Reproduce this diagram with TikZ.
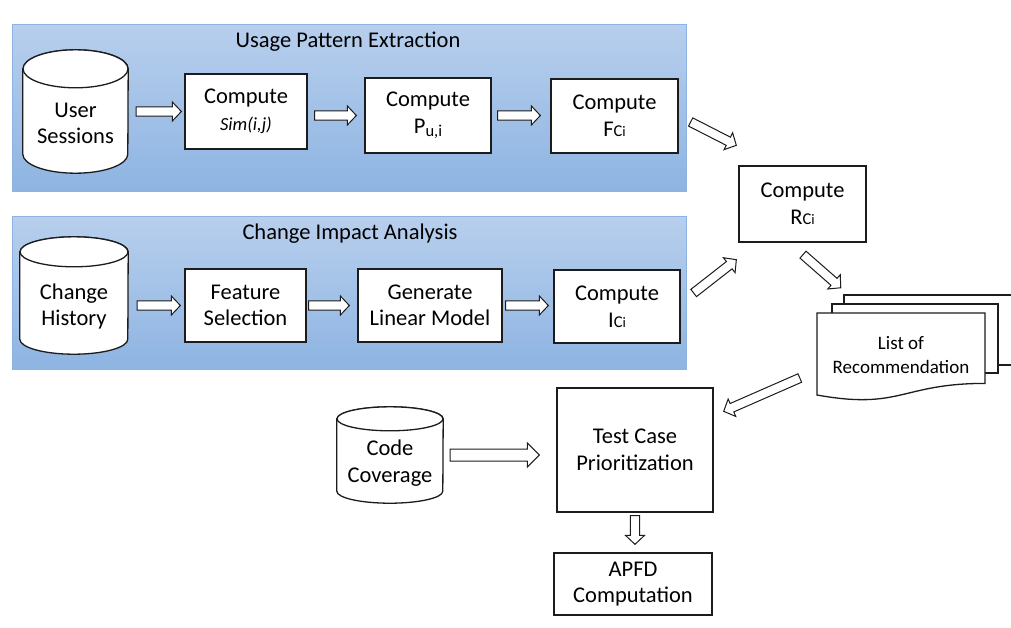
\documentclass[tikz,border=0pt]{standalone}
\usepackage{fontspec}
\setmainfont{Carlito}
\usetikzlibrary{calc}

\definecolor{panelTop}{RGB}{184,207,237}
\definecolor{panelBot}{RGB}{142,180,226}
\definecolor{panelEdge}{RGB}{141,179,226}
\definecolor{ink}{RGB}{28,28,28}

% sizes of the outlined block arrows
\newcommand\arrShaft{4.6pt}
\newcommand\arrHead{9.5pt}
\newcommand\arrLen{9pt}

\tikzset{
  x=1pt, y=-1pt,
  every node/.style={font=\fontsize{22.5}{26.5}\selectfont, text=black},
  panel/.style={draw=panelEdge, line width=0.8pt, top color=panelTop, bottom color=panelBot},
  procbox/.style={draw=ink, line width=1.3pt, fill=white, align=center, inner sep=0pt},
  dbbody/.style={draw=none, inner sep=0pt},
  dbline/.style={draw=ink, line width=1.3pt, fill=white},
  dbtext/.style={align=center},
  page/.style={draw=ink, line width=1.3pt, fill=white},
  blockarrow/.style={draw=ink, fill=white, line width=1pt, line join=miter,
    to path={let \p1=(\tikztostart), \p2=(\tikztotarget),
      \n1={atan2(\y2-\y1,\x2-\x1)}, \n2={veclen(\x2-\x1,\y2-\y1)} in
      {[shift={(\p1)}, rotate=\n1]
        (0pt,-\arrShaft) -- (\n2-\arrLen,-\arrShaft) -- (\n2-\arrLen,-\arrHead) -- (\n2,0pt)
        -- (\n2-\arrLen,\arrHead) -- (\n2-\arrLen,\arrShaft) -- (0pt,\arrShaft) -- cycle}}},
  bigarrow/.style={blockarrow, /utils/exec={\def\arrShaft{6pt}\def\arrHead{12pt}\def\arrLen{12pt}}}
}

% upright database cylinder around a node: node, x radius, y radius
\newcommand\dbshape[3]{%
  \draw[dbline] ([yshift=-#3]#1.north west) -- ([yshift=#3]#1.south west)
     arc[start angle=180, end angle=360, x radius=#2, y radius=#3]
     -- ([yshift=-#3]#1.north east)
     arc[start angle=0, end angle=180, x radius=#2, y radius=#3] -- cycle;
  \draw[dbline] ([yshift=-#3]#1.north) ellipse[x radius=#2, y radius=#3];
}

\newcommand\subsm[1]{{\fontsize{16.5}{16.5}\selectfont #1}}
\newcommand\subxs[1]{{\fontsize{14.5}{14.5}\selectfont #1}}

\begin{document}
\begin{tikzpicture}
\useasboundingbox (0,0) rectangle (1011,627);

% ---- group panels
\node[panel, minimum width=674pt, minimum height=167pt] (usage) at (349,107.5) {};
\node (usageT) at (348,42) {Usage Pattern Extraction};
\node[panel, minimum width=674pt, minimum height=153pt] (impact) at (349,292.5) {};
\node (impactT) at (350,234) {Change Impact Analysis};

% ---- data stores
\node[dbbody, minimum width=105pt, minimum height=123pt] (sess) at (75.5,111.5) {};
\dbshape{sess}{52.5pt}{19pt}
\node[dbtext] (sessT) at (75.5,123.5) {User\\Sessions};

\node[dbbody, minimum width=108pt, minimum height=117pt] (hist) at (74,295.5) {};
\dbshape{hist}{54pt}{15pt}
\node[dbtext] (histT) at (74,306.5) {Change\\History};

\node[dbbody, minimum width=106pt, minimum height=96pt] (code) at (390,455) {};
\dbshape{code}{53pt}{12pt}
\node[dbtext] (codeT) at (390,463) {Code\\Coverage};

% ---- processing steps
\node[procbox, minimum width=122pt, minimum height=75pt] (sim) at (246,111.5)
  {Compute\\{\fontsize{18.5}{20}\selectfont\itshape Sim(i,j)}};
\node[procbox, minimum width=126pt, minimum height=75pt] (pui) at (428,115.5)
  {Compute\\P\raisebox{-3pt}{\subsm{u,i}}};
\node[procbox, minimum width=127pt, minimum height=74pt] (fc) at (614.5,116)
  {Compute\\F\subsm{C}\subxs{i}};

\node[procbox, minimum width=121pt, minimum height=73pt] (feat) at (245.5,305.5)
  {Feature\\Selection};
\node[procbox, minimum width=144pt, minimum height=73pt] (gen) at (430,305.5)
  {Generate\\Linear Model};
\node[procbox, minimum width=126pt, minimum height=73pt] (ic) at (617,306.5)
  {Compute\\I\subsm{C}\subxs{i}};

\node[procbox, minimum width=127pt, minimum height=76pt] (rc) at (802.5,204)
  {Compute\\R\subsm{C}\subxs{i}};

\node[procbox, minimum width=156pt, minimum height=124pt] (tcp) at (635,450)
  {Test Case\\Prioritization};
\node[procbox, minimum width=158pt, minimum height=62pt] (apfd) at (633,584)
  {APFD\\Computation};

% ---- stacked document
\begin{scope}
  \clip (0,0) rectangle (1011,627);
  \draw[page] (844,295) rectangle (1016,365);
  \draw[page] (832,304) rectangle (998,373);
  \draw[page] (817,313) -- (985,313) -- (985,383.4)
    .. controls (901,383.4) and (901,410.2) .. (817,395) -- cycle;
\end{scope}
\node[dbbody, minimum width=168pt, minimum height=82pt, align=center,
      font=\fontsize{19}{24}\selectfont] (doc) at (901,355) {List of\\Recommendation};

% ---- flow
\draw[blockarrow] ([xshift=8pt]sess.east) to ([xshift=-3pt]sim.west);
\draw[blockarrow] ([xshift=7pt]sim.east |- pui.west) to ([xshift=-8pt]pui.west);
\draw[blockarrow] ([xshift=6pt]pui.east) to ([xshift=-10pt]fc.west |- pui.east);

\draw[blockarrow] ([xshift=9pt]hist.east |- feat.west) to ([xshift=-4pt]feat.west);
\draw[blockarrow] ([xshift=2pt]feat.east) to ([xshift=-8pt]gen.west);
\draw[blockarrow] ([xshift=3pt]gen.east) to ([xshift=-5pt]ic.west |- gen.east);

\draw[blockarrow] ($(fc.east)+(12,6)$) to ($(rc.north west)+(-2,-20)$);
\draw[blockarrow] ($(ic.east)+(13,-13.5)$) to ($(rc.south west)+(-2,17)$);
\draw[blockarrow] ($(rc.south)+(0.5,12)$) to ($(doc.north west)+(24,-26)$);
\draw[blockarrow] ($(doc.west)+(-17,23)$) to ($(tcp.north east)+(10,24)$);

\draw[bigarrow] ([xshift=7pt]code.east) to ([xshift=-17pt]tcp.west |- code.east);
\draw[blockarrow] ([yshift=-3pt]tcp.south) to ([yshift=8pt]apfd.north -| tcp.south);
\end{tikzpicture}
\end{document}
